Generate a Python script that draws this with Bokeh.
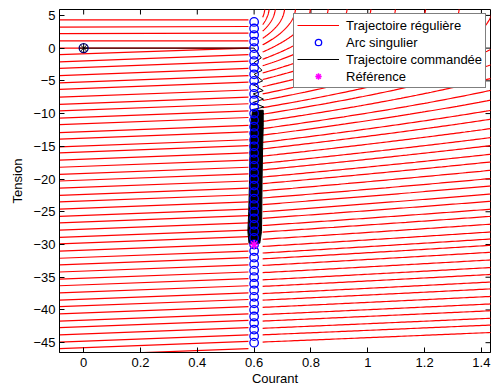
import numpy as np
from bokeh.plotting import figure
from bokeh.models import Range1d, FixedTicker, Legend, LegendItem
from bokeh.embed import file_html
from bokeh.resources import INLINE

# ---------------- data ----------------
x_ticks = [0, 0.2, 0.4, 0.6, 0.8, 1.0, 1.2, 1.4]
x_tick_labels = ["0", "0.2", "0.4", "0.6", "0.8", "1", "1.2", "1.4"]
y_ticks = [-45, -40, -35, -30, -25, -20, -15, -10, -5, 0, 5]
y_tick_labels = ["\u221245", "\u221240", "\u221235", "\u221230", "\u221225", "\u221220",
                 "\u221215", "\u221210", "\u22125", "0", "5"]

# regular trajectories left of the singular arc: voltage at the left edge and at the arc
left_i = [-0.085, 0.58]
left_v_start = [4.3, 3.2, 2.2, 1.1, 0.0, -1.0, -2.1, -3.1, -4.2, -5.3, -6.3, -7.5, -8.6,
                -9.6, -10.7, -11.7, -12.9, -13.9, -15.1, -16.0, -17.1, -18.2, -19.3, -20.3,
                -21.4, -22.5, -23.5, -24.6, -25.7, -26.7, -27.8, -28.9, -29.9, -31.0, -32.1,
                -33.1, -34.2, -35.3, -36.3, -37.4, -38.5, -39.5, -40.6, -41.7, -42.7, -43.8,
                -44.9, -45.9, -47.0]
left_v_end = [4.3, 3.3, 2.3, 1.1, 0.0, 0.0, -1.0, -2.0, -3.1, -4.2, -5.2, -6.4, -7.5,
              -8.5, -9.6, -10.6, -11.8, -12.8, -14.0, -14.9, -16.0, -17.1, -18.2, -19.2,
              -20.3, -21.4, -22.4, -23.5, -24.6, -25.6, -26.7, -27.8, -28.8, -29.9, -31.0,
              -32.0, -33.1, -34.2, -35.2, -36.3, -37.4, -38.4, -39.5, -40.6, -41.6, -42.7,
              -43.8, -44.8, -45.9]

# regular trajectories right of the singular arc: starting voltage at the arc
right_i0 = 0.63
right_v0 = [-44.9, -43.8, -42.8, -41.7, -40.7, -39.6, -38.5, -37.5, -36.4, -35.4, -34.3,
            -33.2, -32.2, -31.3, -30.3, -29.2, -28.1, -27.1, -26.0, -25.0, -23.9, -22.9,
            -21.8, -20.7, -19.7, -18.6, -17.6, -16.5, -15.4, -14.4, -13.3, -12.3, -11.2,
            -10.1, -9.1, -8.0, -7.0, -5.9, -4.8, -3.8, -2.7, -1.7, -0.6, 0.5, 1.5, 2.6,
            3.6, 4.7]
right_vc = 6.5      # voltage where the arcs turn vertical
right_n = 2.2
right_k = 443.0

# singular arc
arc_i = 0.6
arc_v = [float(v) for v in range(-45, 5)]

# commanded trajectory (sparse chattering part)
cmd_i = [0.0, 0.6, 0.625, 0.6, 0.628, 0.6, 0.63, 0.598, 0.632, 0.597, 0.633, 0.596,
         0.634, 0.595, 0.634, 0.594]
cmd_v = [0.0, 0.0, -1.5, -2.2, -3.4, -4.0, -5.0, -5.6, -6.5, -7.0, -7.8, -8.3, -9.0,
         -9.4, -10.0, -10.4]
# dense chattering band (envelope)
band_v = [-9.5, -12.0, -15.0, -20.0, -25.0, -28.0, -29.8]
band_left = [0.594, 0.588, 0.586, 0.584, 0.581, 0.578, 0.582]
band_right = [0.632, 0.632, 0.63, 0.628, 0.627, 0.626, 0.62]

start_pt = (0.0, 0.0)
ref_pt = (0.6, -30.0)

# ---------------- figure ----------------
FONT = "Liberation Sans"
X0, X1 = -0.085, 1.432
Y0, Y1 = -46.5, 5.9
FW, FH = 431, 343
BL, BT = 59, 9
p = figure(frame_width=FW, frame_height=FH, output_backend="svg", toolbar_location=None,
           x_range=Range1d(X0, X1), y_range=Range1d(Y0, Y1),
           min_border_left=BL, min_border_top=BT, min_border_right=2, min_border_bottom=37)
p.background_fill_color = "white"
p.border_fill_color = "white"
p.grid.visible = False
p.outline_line_color = "black"
p.outline_line_width = 1

def style_axis(ax):
    ax.axis_line_color = "black"
    ax.axis_line_width = 1
    ax.major_tick_in = 5
    ax.major_tick_out = 0
    ax.minor_tick_line_color = None
    ax.minor_tick_in = 0
    ax.minor_tick_out = 0
    ax.major_tick_line_color = "black"
    ax.major_label_text_font = FONT
    ax.major_label_text_font_size = "13px"
    ax.major_label_text_color = "black"
    ax.axis_label_text_font = FONT
    ax.axis_label_text_font_size = "13px"
    ax.axis_label_text_font_style = "normal"
    ax.axis_label_text_color = "black"

xa = p.xaxis[0]
style_axis(xa)
xa.ticker = FixedTicker(ticks=x_ticks)
xa.major_label_overrides = {t: l for t, l in zip(x_ticks, x_tick_labels)}
xa.axis_label = "Courant"
xa.major_label_standoff = 5
xa.axis_label_standoff = 1

ya = p.yaxis[0]
style_axis(ya)
ya.ticker = FixedTicker(ticks=y_ticks)
ya.major_label_overrides = {t: l for t, l in zip(y_ticks, y_tick_labels)}
ya.axis_label = "Tension"
ya.major_label_standoff = 4
ya.axis_label_standoff = 5

# mirrored tick marks on the top and right edges of the box (5 px long)
tx = 5 * (X1 - X0) / FW
ty = 5 * (Y1 - Y0) / FH
p.segment(x0=x_ticks, y0=[Y1] * len(x_ticks), x1=x_ticks, y1=[Y1 - ty] * len(x_ticks),
          line_color="black", line_width=1)
p.segment(x0=[X1] * len(y_ticks), y0=y_ticks, x1=[X1 - tx] * len(y_ticks), y1=y_ticks,
          line_color="black", line_width=1)

# regular trajectories left of the arc: straight segments
n_left = len(left_v_start)
red_left = p.segment(x0=[left_i[0]] * n_left, y0=left_v_start,
                     x1=[left_i[1]] * n_left, y1=left_v_end,
                     line_color="#ff0000", line_width=1.2)

rx, ry = [], []
for v0 in right_v0:
    w0 = right_vc - v0
    lim = w0 ** right_n - right_k * (1.5 - right_i0)
    w_end = lim ** (1.0 / right_n) if lim > 0 else 0.0
    w = np.linspace(w0, w_end, 80)
    ii = right_i0 + (w0 ** right_n - w ** right_n) / right_k
    rx.append(list(ii))
    ry.append(list(right_vc - w))
p.multi_line(rx, ry, line_color="#ff0000", line_width=1.2)

# commanded trajectory
p.patch(band_left + band_right[::-1], band_v + band_v[::-1], fill_color="black",
        line_color="black", line_width=1)
cmd = p.line(cmd_i, cmd_v, line_color="black", line_width=1)

# singular arc
arc = p.scatter([arc_i] * len(arc_v), arc_v, marker="circle", size=8.5, fill_color=None,
                line_color="blue", line_width=1.3)

# start point
p.scatter([start_pt[0]], [start_pt[1]], marker="circle", size=9, fill_color=None,
          line_color="#000080", line_width=1.3)
p.scatter([start_pt[0]], [start_pt[1]], marker="asterisk", size=9, line_color="black",
          line_width=1)

# reference
ref = p.scatter([ref_pt[0]], [ref_pt[1]], marker="asterisk", size=9, line_color="magenta",
                line_width=1.5)

# ---------------- legend ----------------
LEG_X, LEG_Y = 234, 264          # bottom-left of the legend box, px from frame bottom-left
PAD, GW, ROWH, SP = 3, 42, 16, 1
legend = Legend(items=[
    LegendItem(label="Trajectoire r\u00e9guli\u00e8re", renderers=[red_left], index=0),
    LegendItem(label="Arc singulier", renderers=[arc]),
    LegendItem(label="Trajectoire command\u00e9e", renderers=[cmd]),
    LegendItem(label="R\u00e9f\u00e9rence", renderers=[ref]),
])
legend.location = (LEG_X, LEG_Y)
legend.label_text_font = FONT
legend.label_text_font_size = "13px"
legend.label_text_color = "black"
legend.glyph_width = GW
legend.glyph_height = ROWH
legend.label_height = ROWH
legend.spacing = SP
legend.padding = PAD
legend.margin = 0
legend.label_standoff = 7
legend.border_line_color = "black"
legend.border_line_width = 1
legend.background_fill_alpha = 1
p.add_layout(legend, "center")

# red key of the first legend row, drawn above the legend (the svg legend strokes it black)
leg_h = 2 * PAD + 4 * ROWH + 3 * SP
key_px_x0 = LEG_X + PAD
key_px_x1 = key_px_x0 + GW
key_px_y = FH - LEG_Y - leg_h + PAD + ROWH / 2      # px from frame top
kx0 = X0 + key_px_x0 / FW * (X1 - X0)
kx1 = X0 + key_px_x1 / FW * (X1 - X0)
ky = Y1 - key_px_y / FH * (Y1 - Y0)
p.segment(x0=[kx0], y0=[ky], x1=[kx1], y1=[ky], line_color="#ff0000", line_width=1.6,
          level="overlay")

open("out.html", "w").write(file_html(p, INLINE))
